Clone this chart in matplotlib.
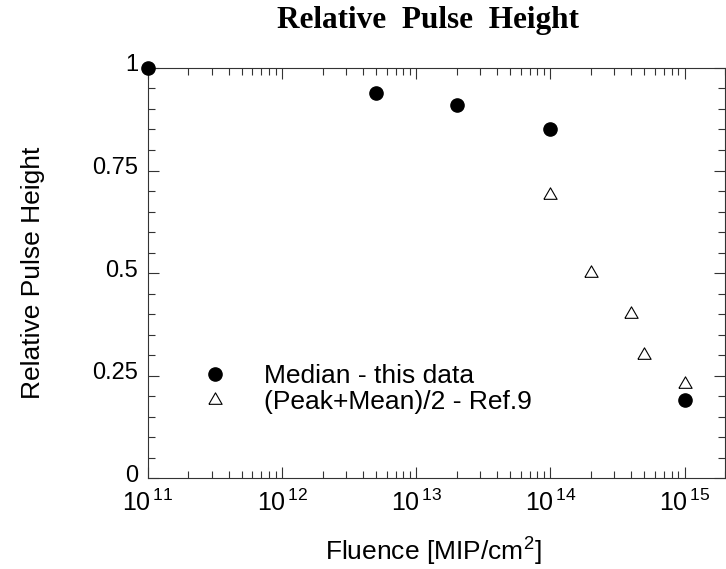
import matplotlib
matplotlib.use('Agg')
import matplotlib.pyplot as plt
import matplotlib.transforms as mtransforms
from matplotlib.ticker import FixedLocator, NullFormatter, LogLocator
import numpy as np

plt.rcParams['font.family'] = ['Liberation Sans', 'DejaVu Sans']
plt.rcParams['mathtext.fontset'] = 'custom'
plt.rcParams['mathtext.rm'] = 'Liberation Sans'
plt.rcParams['mathtext.it'] = 'Liberation Sans:italic'

# data
median_fluence = [1e11, 5e12, 2e13, 1e14, 1e15]
median_height = [1.0, 0.94, 0.91, 0.85, 0.19]

ref9_fluence = [1e14, 2e14, 4e14, 5e14, 1e15]
ref9_height = [0.69, 0.50, 0.40, 0.30, 0.23]

y_ticks = [0, 0.25, 0.5, 0.75, 1]
y_ticklabels = ['0', '0.25', '0.5', '0.75', '1']
x_exponents = [11, 12, 13, 14, 15]

# open triangle, closer to equilateral than the stock '^'
tri = [(-1, -0.577), (1, -0.577), (0, 1.155), (-1, -0.577)]

fig = plt.figure(figsize=(7.26, 5.69), dpi=100)
ax = fig.add_axes([0.2039, 0.1599, 0.7947, 0.7206])

ax.plot(median_fluence, median_height, 'o', color='black', ms=9.5,
        clip_on=False, zorder=5, label='Median - this data')
ax.plot(ref9_fluence, ref9_height, marker=tri, ls='none', mfc='white',
        mec='black', mew=0.8, ms=11, clip_on=False, zorder=5,
        label='(Peak+Mean)/2 - Ref.9')

ax.set_xscale('log')
ax.set_xlim(1e11, 2e15)
ax.set_ylim(0, 1)

ax.set_xticks([10.0 ** e for e in x_exponents])
ax.set_xticklabels([r'$\mathregular{10^{\,%d}}$' % e for e in x_exponents])
ax.xaxis.set_minor_locator(LogLocator(base=10, subs=np.arange(2, 10)))
ax.xaxis.set_minor_formatter(NullFormatter())

ax.set_yticks(y_ticks)
ax.set_yticklabels(y_ticklabels)
ax.yaxis.set_minor_locator(FixedLocator(np.arange(0, 1.0001, 0.05)))

ax.tick_params(which='both', direction='in', top=True, right=True,
               color='#333333', width=0.8)
ax.tick_params(which='major', length=8)
ax.tick_params(which='minor', length=5)
ax.tick_params(axis='x', which='major', pad=8, labelsize=18)
ax.tick_params(axis='y', which='major', pad=7, labelsize=17)

# y labels sit a touch above their ticks in the original
shift = mtransforms.ScaledTranslation(0, 5 / 100, fig.dpi_scale_trans)
for lab in ax.get_yticklabels():
    lab.set_transform(lab.get_transform() + shift)

for s in ax.spines.values():
    s.set_linewidth(0.8)
    s.set_color('#333333')

ax.set_xlabel(r'Fluence [MIP/cm$^{2}$]', fontsize=19)
ax.xaxis.set_label_coords(0.494, -0.14)
ax.set_ylabel('Relative Pulse Height', fontsize=19)
ax.yaxis.set_label_coords(-0.178, 0.5)

fig.text(0.59, 0.9515, 'Relative  Pulse  Height', fontsize=22.5,
         fontweight='bold', family='Liberation Serif', ha='center', va='baseline')

ax.legend(loc='center left', bbox_to_anchor=(0.071, 0.217), frameon=False,
          fontsize=19, handletextpad=1.33, labelspacing=0.06, borderpad=0,
          handlelength=1.0)

fig.savefig('out.png', dpi=100)
